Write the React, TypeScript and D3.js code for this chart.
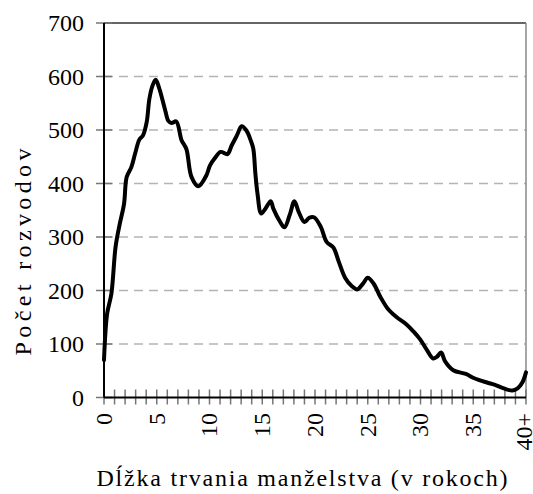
import React from 'react';
import * as d3 from 'd3';

// marriage duration (years) and number of divorces
const years = [0, 0.3, 0.7, 1.1, 1.5, 1.9, 2.15, 2.6, 2.95, 3.35, 3.7, 4.05, 4.3, 4.6, 4.9, 5.25, 5.8, 6.1, 6.4, 6.85,
    7.35, 7.8, 8.3, 8.95, 9.7, 10.05, 10.5, 11.05, 11.7, 12.1, 12.6, 13.05, 13.5, 13.9, 14.15, 14.35, 14.55, 14.9, 15.3, 15.8,
    16.05, 16.7, 17.1, 17.6, 18.05, 18.45, 19.0, 19.45, 19.9, 20.55, 21.1, 21.75, 22.25, 22.85, 23.5, 24.0, 24.55, 25.0, 25.55, 26.2,
    26.9, 27.75, 28.65, 29.35, 29.95, 30.6, 31.2, 31.55, 31.95, 32.35, 33.1, 34.3, 35.1, 36.3, 37.0, 37.9, 38.7, 39.2, 39.65, 40];
const divorces = [70, 157, 194, 282, 325, 362, 412, 431, 456, 482, 490, 515, 558, 583, 594, 577, 537, 517, 513, 516,
    481, 465, 412, 395, 415, 434, 447, 459, 455, 471, 490, 507, 499, 481, 465, 418, 381, 344, 353, 367,
    353, 328, 318, 341, 367, 347, 328, 336, 337, 319, 291, 280, 254, 224, 208, 202, 213, 224, 213, 188,
    166, 150, 137, 123, 109, 89, 73, 76, 84, 67, 51, 44, 36, 28, 24, 17, 13, 17, 28, 47];

const yTicks = [0, 100, 200, 300, 400, 500, 600, 700];
const xLabels = ['0', '5', '10', '15', '20', '25', '30', '35', '40+'];

const width = 533;
const height = 494;
const left = 104, right = 526, top = 23, bottom = 397.5;
const fontCss = 'text { font-family: "Liberation Serif", "Times New Roman", Tinos, Times, serif; font-size: 24px; }';
const serif = { fontFamily: '"Liberation Serif", "Times New Roman", Tinos, Times, serif' };

const x = d3.scaleLinear([0, 40], [left, right]);
const y = d3.scaleLinear([0, 700], [bottom, top]);

const line = d3.line<number>()
    .x((d, i) => x(years[i]))
    .y(d => y(d))
    .curve(d3.curveCatmullRom.alpha(0.5));

const App = () => {
    return (
        <div style={{ position: 'absolute', left: 0, top: 0 }}>
            <svg width={width} height={height} style={serif}>
                <style>{fontCss}</style>
                <rect width={width} height={height} fill="#fff" />
                {/* gridlines */}
                <g stroke="#b4b4b4" strokeWidth={1.5} strokeDasharray="9,6">
                    {yTicks.filter(d => d > 0 && d < 700).map(d => (
                        <line key={d} x1={left} x2={right} y1={y(d)} y2={y(d)} />
                    ))}
                </g>
                {/* frame */}
                <line x1={left} x2={right} y1={top} y2={top} stroke="#333" strokeWidth={1.5} />
                <line x1={right} x2={right} y1={top} y2={bottom} stroke="#888" strokeWidth={1.5} />
                {/* ticks */}
                <g stroke="#777" strokeWidth={1.5}>
                    {yTicks.map(d => (
                        <line key={d} x1={left - 8} x2={left + 8} y1={y(d)} y2={y(d)} />
                    ))}
                    {d3.range(0, 41).map(d => (
                        <line key={'x' + d} x1={x(d)} x2={x(d)} y1={bottom - 8} y2={bottom + 7} />
                    ))}
                </g>
                {/* axes */}
                <line x1={left} x2={left} y1={top} y2={bottom} stroke="#000" strokeWidth={2} />
                <line x1={left} x2={right} y1={bottom} y2={bottom} stroke="#000" strokeWidth={2} />
                {/* data line */}
                <path d={line(divorces) || ''} fill="none" stroke="#000" strokeWidth={4}
                    strokeLinejoin="round" strokeLinecap="round" />
                {yTicks.map(d => (
                    <text key={d} style={serif} fontFamily="Liberation Serif" fontSize={24}
                        x={84} y={y(d)} dy="0.35em" textAnchor="end">{d}</text>
                ))}
                {xLabels.map((d, i) => (
                    <text key={d} style={serif} fontFamily="Liberation Serif" fontSize={24}
                        transform={`translate(${x(i * 5) - (i === 8 ? 2 : 0)},413) rotate(-90)`}
                        dy="0.33em" textAnchor="end">{d}</text>
                ))}
                <text style={serif} fontFamily="Liberation Serif" fontSize={24} x={302} y={486}
                    textAnchor="middle" textLength={411} lengthAdjust="spacing">
                    Dĺžka trvania manželstva (v rokoch)
                </text>
                <text style={serif} fontFamily="Liberation Serif" fontSize={24}
                    transform="translate(31,252) rotate(-90)" textAnchor="middle"
                    textLength={207} lengthAdjust="spacing">Počet rozvodov</text>
            </svg>
        </div>
    );
};

export default App;
